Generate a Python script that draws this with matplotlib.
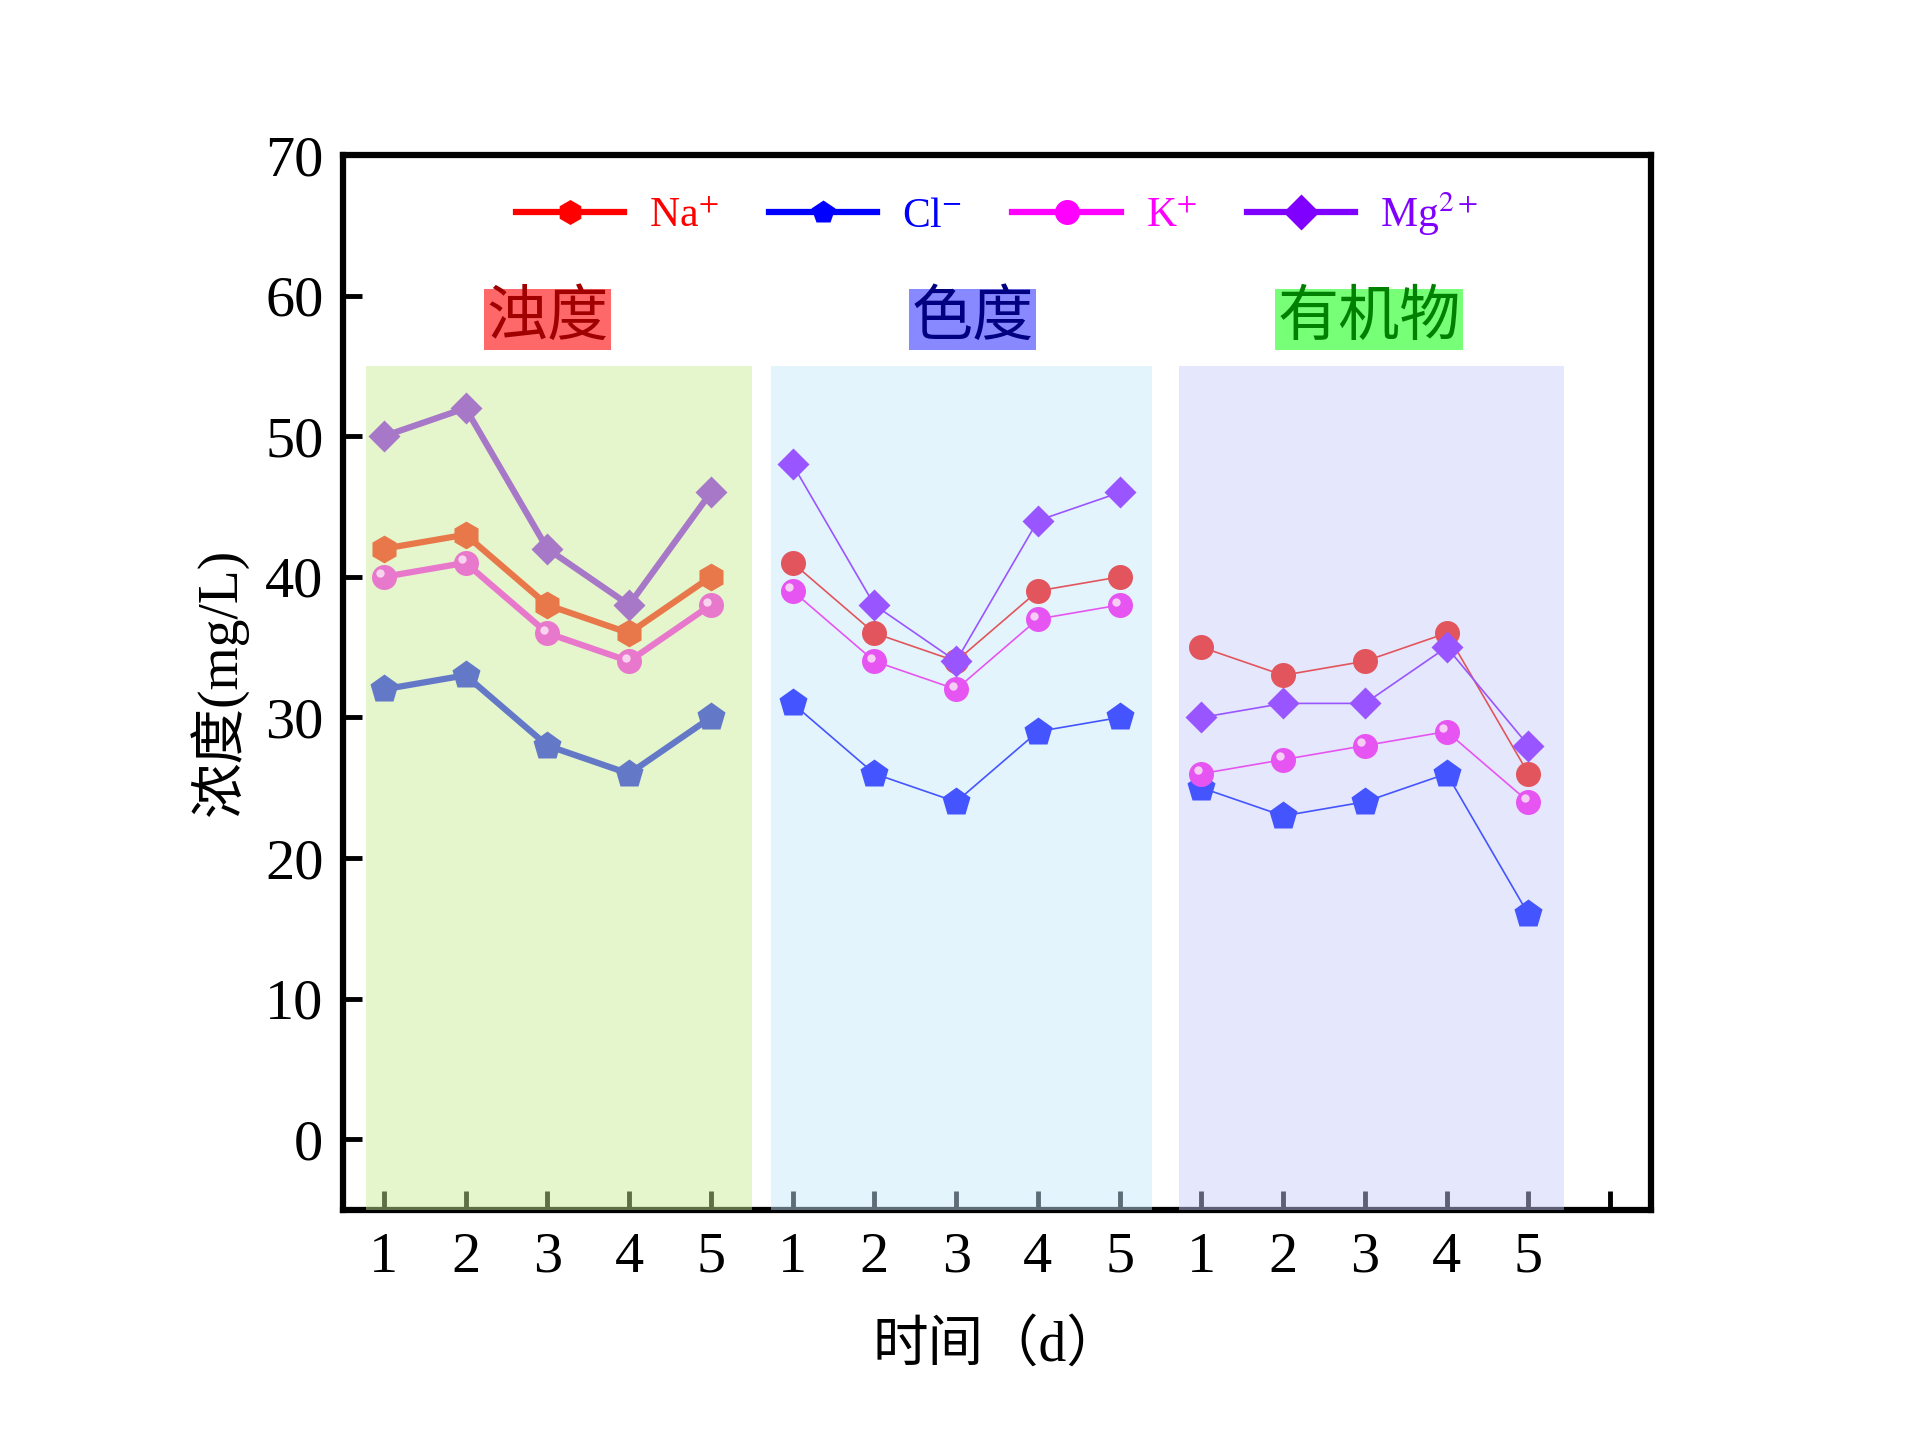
import matplotlib
matplotlib.use("Agg")
import matplotlib.pyplot as plt
from matplotlib.lines import Line2D
from matplotlib.transforms import ScaledTranslation

plt.rcParams["font.family"] = ["Liberation Serif", "Noto Sans CJK SC", "DejaVu Sans"]
plt.rcParams["mathtext.fontset"] = "stix"

# data: three test groups, days 1-5 each
days = [1, 2, 3, 4, 5]
groups = ["浊度", "色度", "有机物"]
ions = ["Na", "Cl", "K", "Mg"]
ion_labels = [r"Na$^{+}$", r"Cl$^{-}$", r"K$^{+}$", r"Mg$^{2+}$"]

na = [[42, 43, 38, 36, 40], [41, 36, 34, 39, 40], [35, 33, 34, 36, 26]]
cl = [[32, 33, 28, 26, 30], [31, 26, 24, 29, 30], [25, 23, 24, 26, 16]]
k = [[40, 41, 36, 34, 38], [39, 34, 32, 37, 38], [26, 27, 28, 29, 24]]
mg = [[50, 52, 42, 38, 46], [48, 38, 34, 44, 46], [30, 31, 31, 35, 28]]
series = {"Na": na, "Cl": cl, "K": k, "Mg": mg}

# styles
markers = {"Na": ["h", "o", "o"], "Cl": ["p", "p", "p"], "K": ["o", "o", "o"], "Mg": ["D", "D", "D"]}
msize = {"h": 20, "o": 18, "p": 21, "D": 16}
colors = {
    "Na": ["#E8784A", "#E2555C", "#E2555C"],
    "Cl": ["#6478C8", "#4455FF", "#4455FF"],
    "K": ["#E878CC", "#E655F2", "#E655F2"],
    "Mg": ["#A878C8", "#9955FF", "#9955FF"],
}
lws = [4.5, 1.2, 1.2]
legend_colors = {"Na": "#FF0000", "Cl": "#0000FF", "K": "#FF00FF", "Mg": "#8000FF"}
span_colors = [(0.79, 0.92, 0.58, 0.47), (0.78, 0.91, 0.99, 0.47), (0.79, 0.80, 0.98, 0.47)]
span_ranges = [(0.78, 5.5), (5.73, 10.39), (10.72, 15.43)]
box_face = ["#FF6868", "#8888FF", "#77FF77"]
box_text = ["#A00000", "#000080", "#008000"]
label_x = [3.0, 8.2, 13.05]

fig = plt.figure(figsize=(19.19, 14.41), dpi=100)
ax = fig.add_axes([0.1787, 0.1606, 0.8604 - 0.1787, 0.8924 - 0.1606])

for g in range(3):
    x0, x1 = span_ranges[g]
    ax.fill_between([x0, x1], -5, 55, color=span_colors[g], lw=0, zorder=2.6)
    ax.text(label_x[g], 58.3, groups[g], ha="center", va="center", fontsize=44,
            color=box_text[g], zorder=5,
            bbox=dict(boxstyle="square,pad=0.04", fc=box_face[g], ec="none"))

hl = ScaledTranslation(-2.5 / 72, 2.5 / 72, fig.dpi_scale_trans)
for g in range(3):
    xs = [d + 5 * g for d in days]
    for ion in ["Cl", "K", "Na", "Mg"]:
        m = markers[ion][g]
        ax.plot(xs, series[ion][g], color=colors[ion][g], lw=lws[g], marker=m,
                ms=msize[m], mec="none", zorder=4)
    ax.plot(xs, k[g], ls="none", marker="o", ms=6, color="#FAE4F6", mec="none",
            alpha=0.85, transform=ax.transData + hl, zorder=4.1)

ax.set_xlim(0.5, 16.5)
ax.set_ylim(-5, 70)
ax.set_xticks(range(1, 17))
ax.set_xticklabels([str(d) for d in days] * 3 + [""])
ax.set_yticks(range(0, 71, 10))
ax.tick_params(direction="in", length=14, width=3.5, labelsize=42)
ax.tick_params(axis="x", pad=16)
ax.tick_params(axis="y", pad=14)
for s in ax.spines.values():
    s.set_linewidth(4.5)

ax.set_ylabel("浓度(mg/L)", fontsize=40, labelpad=12)
ax.set_xlabel("时间（d）", fontsize=40, labelpad=26)

handles = []
for ion in ions:
    m = {"Na": "h", "Cl": "p", "K": "o", "Mg": "D"}[ion]
    handles.append(Line2D([], [], color=legend_colors[ion], lw=4.5, marker=m,
                          ms=18, mec="none"))
ax.legend(handles, ion_labels, loc="center", bbox_to_anchor=(0.5, 0.944), ncol=4,
          frameon=False, fontsize=30, labelcolor="linecolor", handlelength=2.6,
          columnspacing=1.2, handletextpad=0.6)

fig.savefig("out.png", dpi=100)
